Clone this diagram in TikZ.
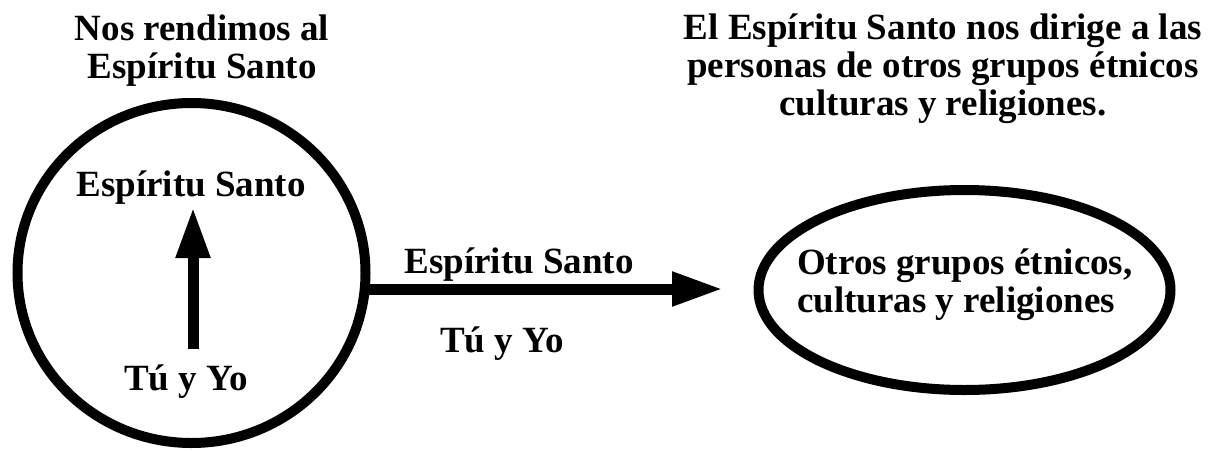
\documentclass[tikz,border=0pt]{standalone}
\usepackage{fontspec}
\setmainfont{Liberation Serif}
\usetikzlibrary{arrows.meta,shapes.geometric}
\tikzset{
  lbl/.style={font=\fontsize{37}{38}\selectfont\bfseries, inner sep=0pt, text=black},
  ring/.style={draw=black, ellipse, line width=10pt, inner sep=0pt},
  bigarrow/.style={line width=11pt, -{Triangle[length=51pt,width=32pt]}}
}
\begin{document}
\begin{tikzpicture}[x=1pt,y=-1pt]
\useasboundingbox (0,0) rectangle (1217,450);
% left circle
\node[ring, minimum width=348pt, minimum height=340pt] (circ) at (191.5,273) {};
% right ellipse
\node[ring, minimum width=412pt, minimum height=200pt] (ell) at (964.5,290) {};
% titles
\node[lbl, align=center, anchor=base] (t1) at (202,78) {Nos rendimos al\\Espíritu Santo};
\node[lbl, align=center, anchor=base] (t2) at (943,115) {El Espíritu Santo nos dirige a las\\personas de otros grupos étnicos\\culturas y religiones.};
% texts in circle
\node[lbl, anchor=base] (es1) at (191,196) {Espíritu Santo};
\node[lbl, anchor=base] (ty1) at (186,390) {Tú y Yo};
% texts by the arrow
\node[lbl, anchor=base] (es2) at (519,273) {Espíritu Santo};
\node[lbl, anchor=base] (ty2) at (502,352) {Tú y Yo};
% text in ellipse
\node[lbl, align=left, anchor=base west] (ot) at (797,312) {Otros grupos étnicos,\\culturas y religiones};
% arrows
\coordinate (v1) at (193,349);
\coordinate (v2) at (193,207);
\draw[bigarrow] (v1) -- (v2);
\coordinate (h1) at (364,289);
\coordinate (h2) at (723,289);
\draw[bigarrow] (h1) -- (h2);
\end{tikzpicture}
\end{document}
